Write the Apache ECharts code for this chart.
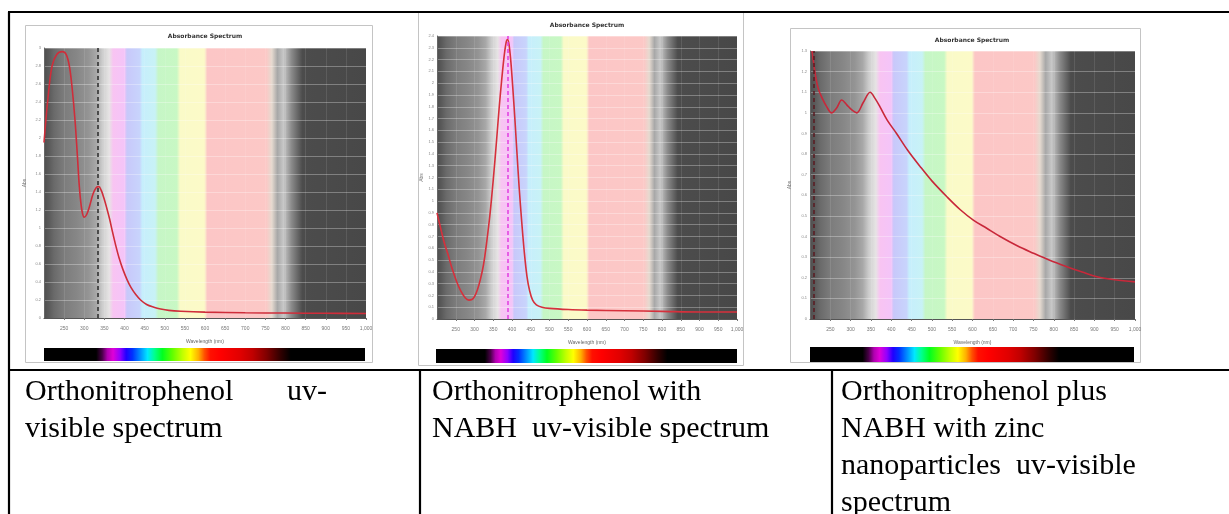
<!DOCTYPE html>
<html><head><meta charset="utf-8">
<script src="https://cdn.jsdelivr.net/npm/echarts@6/dist/echarts.min.js"></script>
<style>html,body{margin:0;padding:0;background:#fff;}#c{width:1229px;height:514px;}</style>
</head><body><div id="c"></div>
<script>
// ---- data (wavelength nm, absorbance) ----
const wl1  = [200,210,220,232,245,255,263,270,277,283,288,294,300,306,313,322,330,336,342,349,356,363,370,378,387,396,406,416,428,440,455,473,490,510,540,600,700,800,900,1000];
const abs1 = [1.95,2.45,2.80,2.93,2.96,2.93,2.80,2.55,2.20,1.80,1.45,1.20,1.12,1.15,1.24,1.38,1.45,1.46,1.42,1.33,1.22,1.10,0.96,0.81,0.66,0.54,0.43,0.34,0.26,0.20,0.15,0.12,0.10,0.085,0.075,0.065,0.058,0.055,0.052,0.05];

const wl2  = [200,206,212,220,230,240,252,263,275,285,293,300,308,316,324,332,341,350,359,366,372,378,384,388,392,397,403,408,413,419,426,433,440,447,455,465,480,500,550,600,700,800,900,1000];
const abs2 = [0.90,0.82,0.74,0.64,0.54,0.43,0.32,0.24,0.18,0.16,0.165,0.19,0.25,0.34,0.46,0.64,0.88,1.18,1.52,1.80,2.01,2.20,2.34,2.37,2.33,2.18,1.92,1.68,1.42,1.12,0.82,0.56,0.36,0.24,0.16,0.12,0.10,0.09,0.08,0.075,0.07,0.065,0.06,0.06];

const wl3  = [205,212,220,229,241,253,266,278,290,303,315,331,348,360,372,390,413,440,471,500,537,570,602,635,668,710,750,790,832,870,906,950,1000];
const abs3 = [1.30,1.20,1.12,1.075,1.03,1.00,1.025,1.062,1.04,1.014,1.00,1.05,1.10,1.07,1.03,0.965,0.90,0.82,0.74,0.67,0.593,0.53,0.48,0.44,0.40,0.355,0.319,0.285,0.254,0.228,0.205,0.19,0.18];

const markerWl = [334, 388, 210];
const yMaxes   = [3, 2.4, 1.3];
const yIntervals = [0.2, 0.1, 0.1];
const xMin = 200, xMax = 1000, xInterval = 50;
const chartTitles = ['Absorbance Spectrum','Absorbance Spectrum','Absorbance Spectrum'];
const xName = 'Wavelength (nm)';
const yName = 'Abs';

// background colour bands of the plot (nm, colour)
const bgStops = [[200,'#4e4e4e'],[212,'#5a5a5a'],[225,'#6a6a6a'],[250,'#7c7c7c'],[280,'#868686'],[310,'#949494'],[330,'#a8a8a8'],[345,'#cdcdcd'],[362,'#e6e4e4'],[372,'#f8c4f2'],[400,'#f4c4f8'],[406,'#c8c8fa'],[438,'#c8d4fc'],[444,'#c6eefc'],[476,'#c8f2f6'],[484,'#c6f6c6'],[530,'#c8f8c4'],[538,'#fafac8'],[598,'#fcfac8'],[606,'#fcc6c6'],[752,'#fcc8c6'],[766,'#e6dad0'],[780,'#a8a8a8'],[795,'#c8c8c8'],[815,'#8a8a8a'],[842,'#4c4c4c'],[1000,'#484848']];
// spectrum strip under each plot (nm, colour)
const barStops = [[200,'#000000'],[330,'#000000'],[345,'#4a0048'],[358,'#b000b0'],[372,'#e000d8'],[390,'#9000ff'],[405,'#2000ff'],[420,'#0030ff'],[440,'#0090ff'],[458,'#00e8ff'],[475,'#00ff90'],[495,'#00ff20'],[520,'#60ff00'],[545,'#c0ff00'],[565,'#ffff00'],[585,'#ffb000'],[600,'#ff5000'],[615,'#ff1000'],[640,'#ff0000'],[690,'#e00000'],[720,'#c00000'],[755,'#800000'],[790,'#300000'],[815,'#000000'],[1000,'#000000']];

const captions = [
  [['Orthonitrophenol',25,0],['uv-',287,0],['visible spectrum',25,1]],
  [['Orthonitrophenol with',432,0],['NABH  uv-visible spectrum',432,1]],
  [['Orthonitrophenol plus',841,0],['NABH with zinc',841,1],['nanoparticles  uv-visible',841,2],['spectrum',841,3]]
];

// ---- layout ----
const layout = [
  {grid:{left:44,top:48,width:322,height:270}, bar:{left:44,top:348,width:321,height:13}, frame:[25,25,347,337], tx:205, ty:36, nameGap:17, line:'#cf2d3a', mark:'#2a2a2a'},
  {grid:{left:437,top:36,width:300,height:283}, bar:{left:436,top:349,width:301,height:14}, frame:[418,12,325,353], tx:587, ty:25, nameGap:9, line:'#d6303c', mark:'#e23ce0'},
  {grid:{left:810,top:51,width:325,height:268}, bar:{left:810,top:347,width:324,height:15}, frame:[790,28,350,334], tx:972, ty:40, nameGap:18, line:'#c8283a', mark:'#5a1a20'}
];
const series_wl = [wl1, wl2, wl3];
const series_ab = [abs1, abs2, abs3];

function grad(stops){
  return new echarts.graphic.LinearGradient(0,0,1,0, stops.map(s=>({offset:(s[0]-xMin)/(xMax-xMin), color:s[1]})));
}

const chart = echarts.init(document.getElementById('c'), null, {renderer:'canvas'});
const grids=[], xAxes=[], yAxes=[], series=[], graphics=[];

layout.forEach((L,i)=>{
  graphics.push({type:'rect', z:-10, shape:{x:L.frame[0]+0.5,y:L.frame[1]+0.5,width:L.frame[2],height:L.frame[3]}, style:{fill:'#ffffff', stroke:'#c4c4c4', lineWidth:1}});
  graphics.push({type:'text', z:5, style:{text:chartTitles[i], x:L.tx, y:L.ty, fontSize:6, fontWeight:'bold', fontFamily:'DejaVu Sans', fill:'#333', textAlign:'center', textVerticalAlign:'middle', align:'center', verticalAlign:'middle'}});
  const gp = grids.length;
  grids.push(Object.assign({containLabel:false}, L.grid));
  grids.push(Object.assign({containLabel:false}, L.bar));
  xAxes.push({gridIndex:gp, type:'value', min:xMin, max:xMax, interval:xInterval, z:2,
    name:xName, nameLocation:'middle', nameGap:21, nameTextStyle:{fontSize:5, color:'#666'},
    axisLine:{show:true, onZero:false, lineStyle:{color:'#555', width:1}},
    axisTick:{show:true, length:2, lineStyle:{color:'#777'}},
    axisLabel:{fontSize:5, color:'#777', margin:8, showMinLabel:false},
    splitLine:{show:true, lineStyle:{color:'rgba(255,255,255,0.1)', width:1}}});
  xAxes.push({gridIndex:gp+1, type:'value', min:xMin, max:xMax, show:false});
  yAxes.push({gridIndex:gp, type:'value', min:0, max:yMaxes[i], interval:yIntervals[i], z:2,
    name:yName, nameLocation:'middle', nameGap:L.nameGap, nameTextStyle:{fontSize:5, color:'#777'},
    axisLine:{show:true, lineStyle:{color:'#666', width:1}},
    axisTick:{show:false},
    axisLabel:{fontSize:4, color:'#888', margin:3},
    splitLine:{show:true, lineStyle:{color:'rgba(255,255,255,0.3)', width:1}}});
  yAxes.push({gridIndex:gp+1, type:'value', min:0, max:1, show:false});
  series.push({type:'line', xAxisIndex:gp, yAxisIndex:gp, data:[[xMin,0]], showSymbol:false, silent:true, lineStyle:{opacity:0},
    markArea:{silent:true, itemStyle:{color:grad(bgStops)}, data:[[{xAxis:xMin},{xAxis:xMax}]]}});
  series.push({type:'line', xAxisIndex:gp+1, yAxisIndex:gp+1, data:[[xMin,0]], showSymbol:false, silent:true, lineStyle:{opacity:0},
    markArea:{silent:true, itemStyle:{color:grad(barStops)}, data:[[{xAxis:xMin},{xAxis:xMax}]]}});
  series.push({type:'line', xAxisIndex:gp, yAxisIndex:gp, z:4, smooth:0.35, showSymbol:false, silent:true,
    data: series_wl[i].map((w,k)=>[w, series_ab[i][k]]),
    lineStyle:{color:L.line, width:1.6},
    markLine:{silent:true, symbol:'none', label:{show:false}, lineStyle:{type:[4,3], color:L.mark, width:1.5}, data:[{xAxis:markerWl[i]}]}});
});

// table lines
const B = '#000';
[[8,12,1229,12],[8,370,1229,370],[9,12,9,514],[420,370,420,514],[832,370,832,514]].forEach(l=>{
  graphics.push({type:'line', z:20, shape:{x1:l[0],y1:l[1],x2:l[2],y2:l[3]}, style:{stroke:B, lineWidth:2.2}});
});
// captions
captions.forEach(col=>col.forEach(c=>{
  graphics.push({type:'text', z:20, style:{text:c[0], x:c[1], y:392+c[2]*37, fontSize:30, fontFamily:'Liberation Serif', fill:'#000', textVerticalAlign:'middle', verticalAlign:'middle'}});
}));

chart.setOption({animation:false, backgroundColor:'#fff', grid:grids, xAxis:xAxes, yAxis:yAxes, series:series, graphic:graphics});
</script></body></html>
